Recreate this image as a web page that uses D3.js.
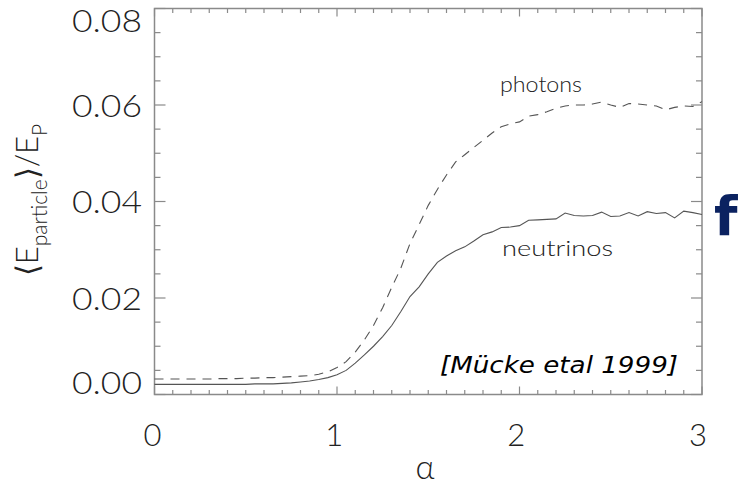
<!DOCTYPE html>
<html>
<head>
<meta charset="utf-8">
<script src="https://cdn.jsdelivr.net/npm/d3@7"></script>
<style>
  html, body { margin: 0; padding: 0; background: #fff; }
  svg { display: block; }
</style>
</head>
<body>
<svg id="chart" width="740" height="489"></svg>
<script>
// ---- data ----
const alpha = [0.00,0.05,0.10,0.15,0.20,0.25,0.30,0.35,0.40,0.45,0.50,0.55,0.60,0.65,0.70,0.75,0.80,0.85,0.90,0.95,
  1.00,1.05,1.10,1.15,1.20,1.25,1.30,1.35,1.40,1.45,1.50,1.55,1.60,1.65,1.70,1.75,1.80,1.85,1.90,1.95,
  2.00,2.05,2.10,2.15,2.20,2.25,2.30,2.35,2.40,2.45,2.50,2.55,2.60,2.65,2.70,2.75,2.80,2.85,2.90,2.95,3.00];
const photons = [0.0032,0.0032,0.0032,0.0032,0.0032,0.0032,0.0032,0.0033,0.0033,0.0033,0.0034,0.0034,0.0035,0.0035,0.0036,0.0037,0.0038,0.0039,0.0042,0.0047,
  0.0056,0.0068,0.0088,0.0113,0.0143,0.0180,0.0222,0.0262,0.0313,0.0352,0.0392,0.0425,0.0455,0.0482,0.0497,0.0512,0.0527,0.0542,0.0555,0.0561,
  0.0565,0.0577,0.0580,0.0586,0.0593,0.0598,0.0600,0.0600,0.0602,0.0606,0.0600,0.0595,0.0603,0.0602,0.0600,0.0598,0.0590,0.0595,0.0598,0.0597,0.0607];
const neutrinos = [0.0021,0.0021,0.0021,0.0021,0.0021,0.0021,0.0021,0.0021,0.0021,0.0021,0.0021,0.0022,0.0022,0.0022,0.0023,0.0024,0.0026,0.0028,0.0031,0.0035,
  0.0041,0.0050,0.0065,0.0082,0.0100,0.0120,0.0143,0.0172,0.0203,0.0223,0.0250,0.0274,0.0287,0.0298,0.0306,0.0318,0.0331,0.0337,0.0346,0.0347,
  0.0350,0.0361,0.0362,0.0363,0.0364,0.0376,0.0371,0.0370,0.0371,0.0378,0.0369,0.0370,0.0377,0.0370,0.0379,0.0375,0.0377,0.0366,0.0380,0.0377,0.0373];
const xTicks = [0, 1, 2, 3];
const xTickLabels = ["0", "1", "2", "3"];
const yTicks = [0, 0.02, 0.04, 0.06, 0.08];
const yTickLabels = ["0.00", "0.02", "0.04", "0.06", "0.08"];
const seriesLabels = ["photons", "neutrinos"];
const citation = "[Mücke etal 1999]";
const cornerLetter = "f";

// ---- layout ----
const svg = d3.select("#chart");
const L = 154.5, R = 702, T = 8.5, B = 394.5;
const x = d3.scaleLinear().domain([0, 3]).range([L, R]);
const y = d3.scaleLinear().domain([0, 0.08]).range([B, T]);
const frameColor = "#8a8a8a";
const lineColor = "#555";
const tickFont = "Lato, 'Noto Sans', 'DejaVu Sans', sans-serif";

// frame
svg.append("rect").attr("x", L).attr("y", T).attr("width", R - L).attr("height", B - T)
  .attr("fill", "none").attr("stroke", frameColor).attr("stroke-width", 1.5);

// ticks
const xMinor = d3.range(0, 3.0001, 0.1);
const yMinor = d3.range(0, 0.08001, 0.005);
const isMajorX = v => Math.abs(v - Math.round(v)) < 1e-6;
const isMajorY = v => Math.abs(v / 0.02 - Math.round(v / 0.02)) < 1e-6;
const tg = svg.append("g").attr("stroke", frameColor).attr("stroke-width", 1.2);
xMinor.forEach(v => {
  const len = isMajorX(v) ? 8 : 4.5;
  tg.append("line").attr("x1", x(v)).attr("x2", x(v)).attr("y1", B).attr("y2", B - len);
  tg.append("line").attr("x1", x(v)).attr("x2", x(v)).attr("y1", T).attr("y2", T + len);
});
yMinor.forEach(v => {
  const len = isMajorY(v) ? 11 : 6;
  tg.append("line").attr("x1", L).attr("x2", L + len).attr("y1", y(v)).attr("y2", y(v));
  tg.append("line").attr("x1", R).attr("x2", R - len).attr("y1", y(v)).attr("y2", y(v));
});

// tick labels
svg.append("g").selectAll("text").data(xTicks).join("text")
  .attr("x", d => x(d) - 2 * d / 3 - 2).attr("y", 446)
  .attr("text-anchor", "middle")
  .attr("font-family", tickFont).attr("font-weight", 300).attr("font-size", 31).attr("fill", "#222")
  .text((d, i) => xTickLabels[i]);
svg.append("g").selectAll("text").data(yTicks).join("text")
  .attr("x", 72).attr("y", d => {
    // end labels are pulled inside the frame (top label flush with top, bottom flush with bottom)
    if (d === 0.08) return T + 23;
    if (d === 0) return B - 1;
    return y(d) + 11.5;
  })
  .attr("textLength", 70).attr("lengthAdjust", "spacingAndGlyphs")
  .attr("font-family", tickFont).attr("font-weight", 300).attr("font-size", 32).attr("fill", "#222")
  .text((d, i) => yTickLabels[i]);

// axis titles
svg.append("text").attr("x", 425).attr("y", 479).attr("text-anchor", "middle")
  .attr("font-family", tickFont).attr("font-weight", 300).attr("font-size", 33).attr("fill", "#222")
  .text("α");

const yl = svg.append("text")
  .attr("transform", "translate(38,200) rotate(-90)")
  .attr("text-anchor", "middle")
  .attr("font-family", tickFont).attr("font-weight", 300).attr("font-size", 31).attr("fill", "#222");
yl.append("tspan").text("⟨E");
yl.append("tspan").attr("dy", 9).attr("font-size", 21).text("particle");
yl.append("tspan").attr("dy", -9).text("⟩/E");
yl.append("tspan").attr("dy", 9).attr("font-size", 21).text("P");

// curves
const line = d3.line().x(d => x(d[0])).y(d => y(d[1]));
svg.append("path").datum(alpha.map((a, i) => [a, photons[i]]))
  .attr("d", line).attr("fill", "none").attr("stroke", lineColor).attr("stroke-width", 1.1)
  .attr("stroke-dasharray", "9,7");
svg.append("path").datum(alpha.map((a, i) => [a, neutrinos[i]]))
  .attr("d", line).attr("fill", "none").attr("stroke", lineColor).attr("stroke-width", 1.1);

// series labels
svg.append("text").attr("x", 500).attr("y", 92)
  .attr("textLength", 82).attr("lengthAdjust", "spacingAndGlyphs")
  .attr("font-family", tickFont).attr("font-weight", 300).attr("font-size", 22).attr("fill", "#222")
  .text(seriesLabels[0]);
svg.append("text").attr("x", 502).attr("y", 256)
  .attr("textLength", 111).attr("lengthAdjust", "spacingAndGlyphs")
  .attr("font-family", tickFont).attr("font-weight", 300).attr("font-size", 22).attr("fill", "#222")
  .text(seriesLabels[1]);

// citation
svg.append("text").attr("x", 440).attr("y", 373)
  .attr("textLength", 238).attr("lengthAdjust", "spacingAndGlyphs")
  .attr("font-family", "'DejaVu Sans', sans-serif").attr("font-style", "italic")
  .attr("font-size", 23).attr("fill", "#000")
  .text(citation);

// corner letter
svg.append("text").attr("x", 714).attr("y", 235)
  .attr("font-family", "'DejaVu Sans', sans-serif").attr("font-weight", "bold")
  .attr("font-size", 54).attr("fill", "#0b2260")
  .text(cornerLetter);
</script>
</body>
</html>
